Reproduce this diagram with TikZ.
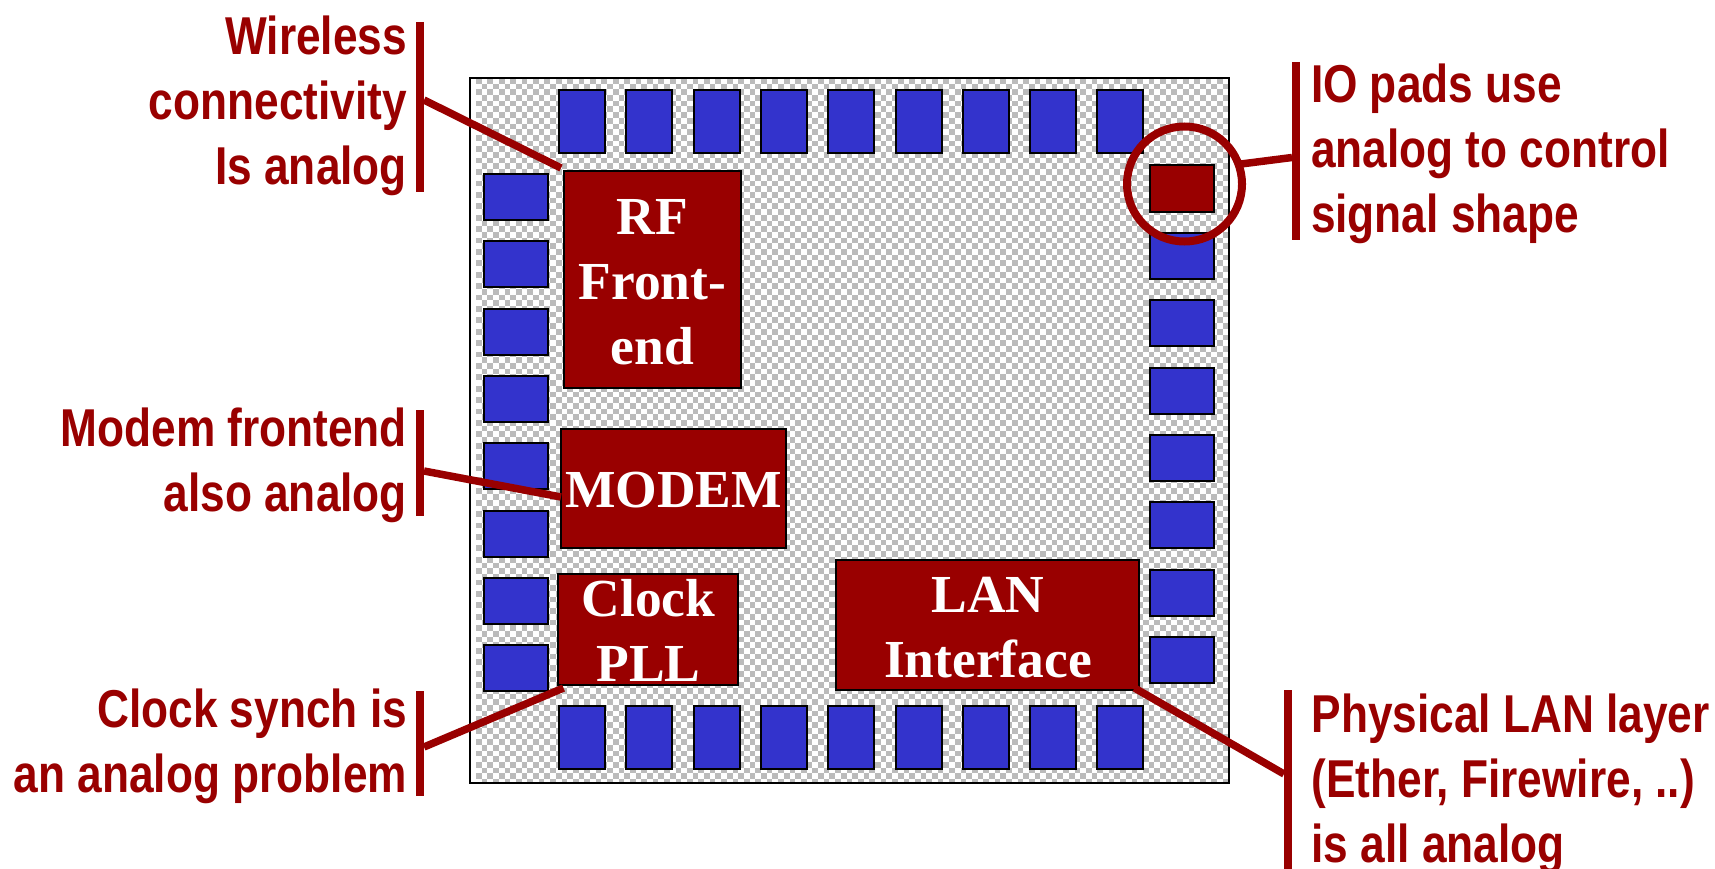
\documentclass[tikz,border=0pt]{standalone}
\usepackage{fontspec}
\setmainfont{Liberation Serif}
\newfontfamily\annotfont[FakeStretch=0.83]{Liberation Sans}
\definecolor{chipred}{HTML}{990000}
\definecolor{padblue}{HTML}{3333CC}
\definecolor{checkgray}{HTML}{BBBBBB}
\tikzset{
  padbox/.style={draw=black,line width=2pt,fill=padblue,inner sep=0pt,outer sep=0pt},
  hpad/.style={padbox,minimum width=46pt,minimum height=63pt},
  vpad/.style={padbox,minimum width=64pt,minimum height=46pt},
  block/.style={draw=black,line width=2pt,fill=chipred,inner sep=0pt,outer sep=0pt},
  blocktext/.style={text=white,align=center,inner sep=0pt,outer sep=0pt,
    font=\fontsize{53.5}{65}\selectfont\bfseries},
  annot/.style={text=chipred,inner sep=0pt,outer sep=0pt,font=\fontsize{53.3}{65}\selectfont\annotfont\bfseries},
  annotl/.style={annot,align=right,anchor=north east},
  annotr/.style={annot,align=left,anchor=north west},
  bar/.style={draw=chipred,line width=8pt},
  leader/.style={draw=chipred,line width=7.5pt},
}
\begin{document}
\begin{tikzpicture}[x=1pt,y=-1pt]
\useasboundingbox (0,0) rectangle (1715,869);
% die with checker fill
\node[draw=none,fill=white,minimum width=759pt,minimum height=705pt,inner sep=0pt,outer sep=0pt] (die) at (849.5,430.5) {};
\begin{scope}
\clip (die.north west) rectangle (die.south east);
\foreach \r in {0,...,124}{
  \pgfmathsetmacro{\yy}{80.85+5.7*\r}
  \pgfmathsetmacro{\ph}{mod(\r,2)*5.7}
  \draw[checkgray,line width=5.7pt,dash pattern=on 5.7pt off 5.7pt,dash phase=\ph pt] (476,\yy) -- (1229,\yy);
}
\end{scope}
\draw[black,line width=2pt] (die.north west) rectangle (die.south east);
% pads
\foreach \i in {0,...,8}{
  \node[hpad] (top\i) at ({582+67.3*\i},122) {};
  \node[hpad] (bot\i) at ({582+67.3*\i},737.5) {};
}
\foreach \i in {0,...,7}{
  \node[vpad] (left\i) at (516,{197+67.3*\i}) {};
}
\foreach \i in {0,...,6}{
  \node[vpad] (right\i) at (1181.5,{256+67.3*\i}) {};
}
\node[vpad,fill=chipred,minimum height=47pt] (iopad) at (1181.5,188.5) {};
% blocks
\node[block,minimum width=177pt,minimum height=217pt] (rf) at (652.5,279.5) {};
\node[block,minimum width=225pt,minimum height=119pt] (modem) at (673.5,488.5) {};
\node[block,minimum width=180pt,minimum height=111pt] (clock) at (648,629.5) {};
\node[block,minimum width=303pt,minimum height=130pt] (lan) at (987.5,625) {};
\node[blocktext] (rftext) at (652.5,282.5) {RF\\Front-\\end};
\node[blocktext] (modemtext) at (673.5,490.5) {MODEM};
\node[blocktext] (clocktext) at (648.5,630.5) {Clock\\PLL};
\node[blocktext] (lantext) at (988,628) {LAN\\Interface};
% annotation texts
\node[annotl] (t1) at (407,16) {Wireless\\connectivity\\Is analog};
\node[annotl] (t2) at (407,408) {Modem frontend\\also analog};
\node[annotl] (t3) at (407,689) {Clock synch is\\an analog problem};
\node[annotr] (t4) at (1311,64) {IO pads use\\analog to control\\signal shape};
\node[annotr] (t5) at (1311.5,694) {Physical LAN layer\\(Ether, Firewire, ..)\\is all analog};
% bars
\coordinate (b1a) at (420,22); \coordinate (b1b) at (420,192);
\coordinate (b2a) at (420,410); \coordinate (b2b) at (420,516);
\coordinate (b3a) at (420,691); \coordinate (b3b) at (420,796);
\coordinate (b4a) at (1296,62); \coordinate (b4b) at (1296,240);
\coordinate (b5a) at (1288,690); \coordinate (b5b) at (1288,869);
\draw[bar] (b1a) -- (b1b);
\draw[bar] (b2a) -- (b2b);
\draw[bar] (b3a) -- (b3b);
\draw[bar] (b4a) -- (b4b);
\draw[bar] (b5a) -- (b5b);
% leaders
\coordinate (l1a) at (424,100); \coordinate (l1b) at (561,168);
\coordinate (l2a) at (424,471); \coordinate (l2b) at (561,497);
\coordinate (l3a) at (424,747); \coordinate (l3b) at (563.5,688);
\coordinate (l4a) at (1241,164); \coordinate (l4b) at (1292,157.5);
\coordinate (l5a) at (1284,774); \coordinate (l5b) at (1134.5,688);
\draw[leader] (l1a) -- (l1b);
\draw[leader] (l2a) -- (l2b);
\draw[leader] (l3a) -- (l3b);
\draw[leader] (l4a) -- (l4b);
\draw[leader] (l5a) -- (l5b);
% magnifier circle
\node[circle,draw=chipred,line width=8pt,minimum size=115pt,inner sep=0pt,outer sep=0pt] (ring) at (1184.5,184) {};
\end{tikzpicture}
\end{document}
